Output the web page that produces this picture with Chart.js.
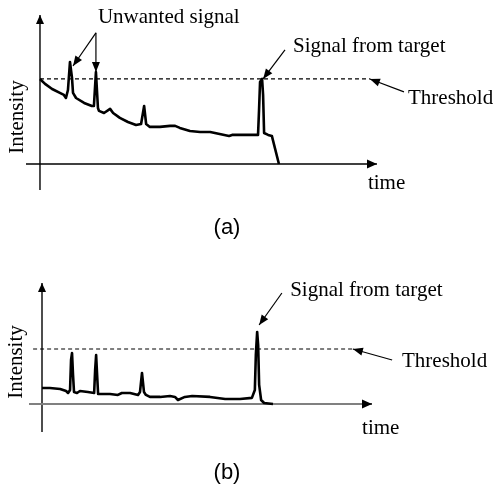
<!DOCTYPE html>
<html>
<head>
<meta charset="utf-8">
<script src="https://cdn.jsdelivr.net/npm/chart.js@4/dist/chart.umd.min.js"></script>
<style>
  body { margin: 0; background: #fff; width: 493px; height: 485px; position: relative; overflow: hidden; }
  canvas { position: absolute; left: 0; }
  #chartA { top: 0; }
  #chartB { top: 243px; }
  .cap { position: absolute; transform: translate(-50%, -50%); font-family: "Liberation Sans", Arial, sans-serif; font-size: 22px; color: #000; }
</style>
</head>
<body>
<canvas id="chartA" width="493" height="243"></canvas>
<canvas id="chartB" width="493" height="242"></canvas>
<div class="cap" style="left:227px; top:227px;">(a)</div>
<div class="cap" style="left:227px; top:472px;">(b)</div>

<script>
// panel (a): raw intensity vs time (threshold = 50)
const timeA = [0, 1.5, 3.6, 5.9, 7.1, 7.7, 8.3, 8.9, 9.5, 9.8, 10.7, 13.1, 15.4, 16.0, 16.6, 17.2, 17.5, 19.0, 20.8, 21.7,
  23.7, 26.1, 28.5, 30.0, 30.9, 31.5, 32.6, 35.6, 38.6, 40.1, 41.5, 44.5, 47.5, 50.5, 51.9, 56.1, 57.0, 60.8, 64.7,
  65.0, 65.3, 65.9, 66.2, 66.5, 67.7, 68.8, 70.9];
const intensityA = [50, 47.1, 44.1, 41.8, 40.6, 38.8, 43.5, 60, 50.6, 41.8, 38.8, 35.9, 34.1, 34.1, 54.1, 32.9, 31.2, 30, 32.4, 30,
  27.1, 24.7, 22.9, 23.5, 34.1, 23.5, 21.8, 21.8, 22.4, 22.4, 21.2, 19.4, 18.8, 18.8, 18.2, 16.5, 17.1, 17.1, 17.1,
  31.8, 48.2, 50, 40.6, 18.2, 17.1, 16.5, 0];

// panel (b): after processing
const timeB = [0, 2.4, 5.5, 7.3, 7.9, 8.5, 8.8, 9.1, 9.4, 9.7, 10.6, 11.5, 13.9, 15.8, 16.1, 16.4, 16.7, 17.0, 20.6, 23.0,
  24.2, 26.7, 29.1, 29.7, 30.3, 30.9, 31.5, 32.7, 35.8, 38.8, 40.3, 41.2, 43.3, 45.5, 50.9, 55.5, 60.0, 63.6, 64.5,
  64.8, 65.2, 65.5, 65.8, 66.4, 67.3, 70.0];
const intensityB = [14.5, 14.5, 13.6, 11.8, 10, 12.7, 40, 46.4, 26.4, 10.9, 10, 11.8, 10.9, 10, 30.9, 44.5, 26.4, 9.1, 9.1, 8.2,
  10, 10, 8.2, 10.9, 28.2, 10.9, 8.2, 6.4, 6.4, 7.3, 6.4, 3.6, 6.4, 7.3, 6.4, 4.5, 4.5, 5.5, 12.7,
  44.5, 65.5, 53.6, 17.3, 3.6, 0.9, 0];

const threshold = 50;
const thresholdSpanA = [0, 97.9];
const thresholdSpanB = [-2.7, 94.2];

const serif = '21px "Liberation Serif", "Times New Roman", serif';

// labels and arrows, in data units
const notesA = {
  texts: [
    { text: 'Unwanted signal', t: 17.2, v: 85.9 },
    { text: 'Signal from target', t: 75.1, v: 68.8 },
    { text: 'Threshold', t: 109.2, v: 38.8 },
    { text: 'time', t: 97.3, v: -11.2 },
    { text: 'Intensity', t: -6.8, v: 27.6, rotate: true }
  ],
  arrows: [
    { from: [16.6, 77.1], to: [9.8, 57.6] },
    { from: [16.6, 77.1], to: [16.6, 54.1] },
    { from: [72.7, 67.1], to: [66.2, 50] },
    { from: [108, 42.4], to: [97.9, 50] }
  ],
  xAxisColor: '#000',
  xAxisWidth: 1.4
};

const notesB = {
  texts: [
    { text: 'Signal from target', t: 75.2, v: 103.6 },
    { text: 'Threshold', t: 109.1, v: 38.2 },
    { text: 'time', t: 97, v: -22.7 },
    { text: 'Intensity', t: -7.6, v: 38.2, rotate: true }
  ],
  arrows: [
    { from: [72.7, 100.9], to: [65.8, 71.8] },
    { from: [106.1, 40], to: [94.2, 50] }
  ],
  xAxisColor: '#808080',
  xAxisWidth: 2
};

function drawArrow(ctx, x1, y1, x2, y2, len, half) {
  ctx.beginPath();
  ctx.moveTo(x1, y1);
  ctx.lineTo(x2, y2);
  ctx.stroke();
  const a = Math.atan2(y2 - y1, x2 - x1);
  const bx = x2 - len * Math.cos(a);
  const by = y2 - len * Math.sin(a);
  ctx.beginPath();
  ctx.moveTo(x2, y2);
  ctx.lineTo(bx + half * Math.sin(a), by - half * Math.cos(a));
  ctx.lineTo(bx - half * Math.sin(a), by + half * Math.cos(a));
  ctx.closePath();
  ctx.fill();
}

const sketchPlugin = {
  id: 'sketch',
  beforeDatasetsDraw(chart) {
    const ctx = chart.ctx;
    const area = chart.chartArea;
    const xs = chart.scales.x;
    const ys = chart.scales.y;
    const notes = chart.options.plugins.sketch;
    const x0 = xs.getPixelForValue(0);
    const y0 = ys.getPixelForValue(0);
    ctx.save();
    ctx.fillStyle = '#000';
    // y axis
    ctx.strokeStyle = '#000';
    ctx.lineWidth = 1.4;
    drawArrow(ctx, x0, area.bottom, x0, area.top, 9, 4);
    // x axis
    ctx.strokeStyle = notes.xAxisColor;
    ctx.lineWidth = notes.xAxisWidth;
    ctx.beginPath();
    ctx.moveTo(area.left, y0);
    ctx.lineTo(area.right - 8, y0);
    ctx.stroke();
    ctx.strokeStyle = '#000';
    ctx.lineWidth = 1.4;
    drawArrow(ctx, area.right - 10, y0, area.right, y0, 10, 4.5);
    ctx.restore();
  },
  afterDraw(chart) {
    const ctx = chart.ctx;
    const xs = chart.scales.x;
    const ys = chart.scales.y;
    const notes = chart.options.plugins.sketch;
    ctx.save();
    ctx.fillStyle = '#000';
    ctx.strokeStyle = '#000';
    ctx.lineWidth = 1.2;
    notes.arrows.forEach(ar => {
      drawArrow(ctx, xs.getPixelForValue(ar.from[0]), ys.getPixelForValue(ar.from[1]),
        xs.getPixelForValue(ar.to[0]), ys.getPixelForValue(ar.to[1]), 10, 4);
    });
    ctx.font = serif;
    ctx.textBaseline = 'middle';
    notes.texts.forEach(tx => {
      const px = xs.getPixelForValue(tx.t);
      const py = ys.getPixelForValue(tx.v);
      if (tx.rotate) {
        ctx.save();
        ctx.translate(px, py);
        ctx.rotate(-Math.PI / 2);
        ctx.textAlign = 'center';
        ctx.fillText(tx.text, 0, 0);
        ctx.restore();
      } else {
        ctx.textAlign = 'left';
        ctx.fillText(tx.text, px, py);
      }
    });
    ctx.restore();
  }
};

function makeChart(id, times, values, span, xRange, yRange, padding, notes) {
  const curve = times.map((t, i) => ({ x: t, y: values[i] }));
  return new Chart(document.getElementById(id), {
    type: 'line',
    data: {
      datasets: [
        {
          data: [{ x: span[0], y: threshold }, { x: span[1], y: threshold }],
          borderColor: '#000',
          borderWidth: 1.2,
          borderDash: [4, 3],
          pointRadius: 0
        },
        {
          data: curve,
          borderColor: '#000',
          borderWidth: 2.6,
          borderJoinStyle: 'round',
          pointRadius: 0,
          tension: 0
        }
      ]
    },
    options: {
      responsive: false,
      animation: false,
      layout: { padding: padding },
      plugins: { legend: { display: false }, tooltip: { enabled: false }, sketch: notes },
      scales: {
        x: { type: 'linear', display: false, min: xRange[0], max: xRange[1] },
        y: { type: 'linear', display: false, min: yRange[0], max: yRange[1] }
      }
    },
    plugins: [sketchPlugin]
  });
}

makeChart('chartA', timeA, intensityA, thresholdSpanA, [-4.15, 100], [-15.3, 87.6],
  { left: 26, right: 116, top: 15, bottom: 53 }, notesA);
makeChart('chartB', timeB, intensityB, thresholdSpanB, [-3.94, 100], [-25.5, 110],
  { left: 29, right: 121, top: 40, bottom: 53 }, notesB);
</script>
</body>
</html>
